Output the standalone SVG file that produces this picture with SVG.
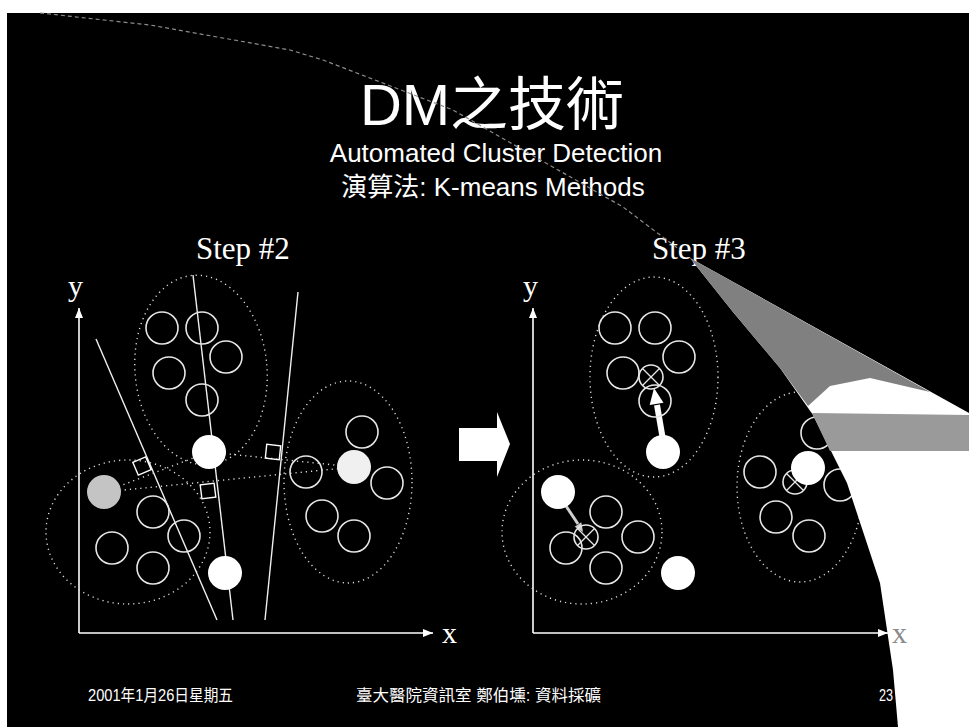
<svg xmlns="http://www.w3.org/2000/svg" width="969" height="727" viewBox="0 0 969 727">
<style>
.sans{font-family:"Liberation Sans","Noto Sans CJK TC",sans-serif;fill:#fff}
.serif{font-family:"Liberation Serif","DejaVu Serif",serif;fill:#fff}
.pt{fill:none;stroke:#e6e6e6;stroke-width:1.6}
.cen{fill:#fff}
.dot{fill:none;stroke:#dcdcdc;stroke-width:1.4;stroke-dasharray:1.2 4}
.ax{stroke:#fff;stroke-width:1.6;fill:none}
.bis{stroke:#f0f0f0;stroke-width:1.4;fill:none}
.sq{fill:none;stroke:#fff;stroke-width:1.4}
.xm{stroke:#e6e6e6;stroke-width:1.3}
</style>
<defs>
<marker id="ah" markerUnits="userSpaceOnUse" markerWidth="10" markerHeight="8" refX="10" refY="4" orient="auto">
<path d="M0,0 L10,4 L0,8 Z" fill="#fff"/>
</marker>
<g id="ox"><circle r="12" class="pt"/><line class="xm" x1="-8.5" y1="-8.5" x2="8.5" y2="8.5"/><line class="xm" x1="8.5" y1="-8.5" x2="-8.5" y2="8.5"/></g>
</defs>
<rect x="0" y="0" width="969" height="727" fill="#fff"/>
<rect x="7" y="13" width="962" height="714" fill="#000"/>
<g id="title">
<text class="sans" x="492" y="125" font-size="58" text-anchor="middle">DM之技術</text>
<text class="sans" x="496" y="162" font-size="26" text-anchor="middle">Automated Cluster Detection</text>
<text class="sans" x="493" y="196" font-size="26" text-anchor="middle">演算法: K-means Methods</text>
</g>
<g id="step2-label"><text class="serif" x="196" y="259" font-size="31">Step #2</text></g>
<g id="step3-label"><text class="serif" x="652" y="259" font-size="31">Step #3</text></g>
<g id="connectors">
<line class="ax" x1="79" y1="633" x2="79" y2="308" marker-end="url(#ah)"/>
<line class="ax" x1="79" y1="633" x2="433" y2="633" marker-end="url(#ah)"/>
<line class="ax" x1="533" y1="633" x2="533" y2="308" marker-end="url(#ah)"/>
<line class="ax" x1="533" y1="633" x2="888" y2="633" marker-end="url(#ah)"/>
<line class="bis" x1="96" y1="339" x2="217" y2="620"/>
<line class="bis" x1="193" y1="275" x2="233" y2="620"/>
<line class="bis" x1="298" y1="292" x2="265" y2="620"/>
<line class="dot" x1="104" y1="492" x2="209" y2="452"/>
<line class="dot" x1="209" y1="452" x2="354" y2="467"/>
<line class="dot" x1="104" y1="492" x2="354" y2="467"/>
<rect class="sq" x="-7" y="-7" width="14" height="14" transform="translate(142 466) rotate(-23)"/>
<rect class="sq" x="-7" y="-7" width="14" height="14" transform="translate(208 491) rotate(-7)"/>
<rect class="sq" x="-7" y="-7" width="14" height="14" transform="translate(273 452) rotate(6)"/>
<polygon points="459,428 497,428 497,412 510,444 497,477 497,461 459,461" fill="#fff"/>
<line x1="662.5" y1="437" x2="657" y2="405" stroke="#fff" stroke-width="6"/>
<polygon points="654,388 649.7,405 663.5,402.7" fill="#fff"/>
<line x1="562" y1="500" x2="578" y2="524" stroke="#cfcfcf" stroke-width="3"/>
<polygon points="583,532 581.3,522.3 574.7,526.7" fill="#cfcfcf"/>
</g>
<g id="axis-labels">
<text class="serif" x="68" y="296" font-size="30">y</text>
<text class="serif" x="442" y="643" font-size="30">x</text>
<text class="serif" x="523" y="296" font-size="30">y</text>
</g>
<g id="s2-cluster-top">
<ellipse class="dot" cx="201" cy="370" rx="66" ry="95" transform="rotate(-5 201 370)"/>
<circle class="pt" cx="162" cy="328" r="16"/>
<circle class="pt" cx="202" cy="328" r="16"/>
<circle class="pt" cx="226" cy="357" r="16"/>
<circle class="pt" cx="169" cy="373" r="16"/>
<circle class="pt" cx="202" cy="400" r="16"/>
<circle class="cen" cx="209" cy="452" r="17"/>
</g>
<g id="s2-cluster-left">
<ellipse class="dot" cx="128" cy="532" rx="82" ry="72"/>
<circle class="pt" cx="153" cy="512" r="16"/>
<circle class="pt" cx="184" cy="536" r="16"/>
<circle class="pt" cx="112" cy="548" r="16"/>
<circle class="pt" cx="153" cy="568" r="16"/>
<circle cx="104" cy="492" r="17" fill="#c4c4c4"/>
</g>
<g id="s2-centroid-bottom"><circle class="cen" cx="225" cy="573" r="17"/></g>
<g id="s2-cluster-right">
<ellipse class="dot" cx="348" cy="482" rx="64" ry="101"/>
<circle class="pt" cx="362" cy="432" r="16"/>
<circle class="pt" cx="306" cy="472" r="16"/>
<circle class="pt" cx="387" cy="483" r="16"/>
<circle class="pt" cx="322" cy="516" r="16"/>
<circle class="pt" cx="354" cy="536" r="16"/>
<circle cx="354" cy="467" r="17" fill="#f0f0f0"/>
</g>
<g id="s3-cluster-top">
<ellipse class="dot" cx="654" cy="377" rx="64" ry="100"/>
<circle class="pt" cx="615" cy="328" r="16"/>
<circle class="pt" cx="655" cy="328" r="16"/>
<circle class="pt" cx="679" cy="357" r="16"/>
<circle class="pt" cx="623" cy="373" r="16"/>
<circle class="pt" cx="655" cy="401" r="16"/>
<use href="#ox" x="651" y="377"/>
<circle class="cen" cx="663" cy="452" r="17"/>
</g>
<g id="s3-cluster-left">
<ellipse class="dot" cx="582" cy="532" rx="80" ry="72"/>
<circle class="pt" cx="606" cy="512" r="16"/>
<circle class="pt" cx="638" cy="537" r="16"/>
<circle class="pt" cx="566" cy="548" r="16"/>
<circle class="pt" cx="606" cy="568" r="16"/>
<use href="#ox" x="586" y="537"/>
<circle class="cen" cx="558" cy="492" r="17"/>
</g>
<g id="s3-centroid-bottom"><circle class="cen" cx="678" cy="573" r="17"/></g>
<g id="s3-cluster-right">
<ellipse class="dot" cx="800" cy="487" rx="63" ry="95"/>
<circle class="pt" cx="817" cy="433" r="16"/>
<circle class="pt" cx="760" cy="472" r="16"/>
<circle class="pt" cx="840" cy="485" r="16"/>
<circle class="pt" cx="776" cy="517" r="16"/>
<circle class="pt" cx="809" cy="536" r="16"/>
<use href="#ox" x="795" y="482"/>
<circle class="cen" cx="808" cy="468" r="17"/>
</g>
<g id="swoosh">
<path d="M40,13 L150,25 L290,50 L323,60 L453,110 L623,207 L680,250" fill="none" stroke="#8a8a8a" stroke-width="1.2" stroke-dasharray="4 3"/>
<path d="M690,258 L969,413 L969,727 L898,727 L893,670 L880,583 L847,483 L813,415 L780,368 L733,312 Z" fill="#fff"/>
<path d="M690,258 L930,392 L870,378 L830,386 L808,406 L780,368 L733,312 Z" fill="#808080"/>
<path d="M812,413 L969,415 L969,451 L830,451 Z" fill="#9a9a9a"/>
<text class="serif" x="892" y="643" font-size="30" style="fill:#8a8a8a">x</text>
</g>
<g id="footer">
<text class="sans" x="88" y="701" font-size="16" textLength="145" lengthAdjust="spacingAndGlyphs">2001年1月26日星期五</text>
<text class="sans" x="356" y="701" font-size="16" textLength="245" lengthAdjust="spacingAndGlyphs">臺大醫院資訊室 鄭伯壎: 資料採礦</text>
<text class="sans" x="879" y="701" font-size="16" textLength="14" lengthAdjust="spacingAndGlyphs">23</text>
</g>
</svg>
